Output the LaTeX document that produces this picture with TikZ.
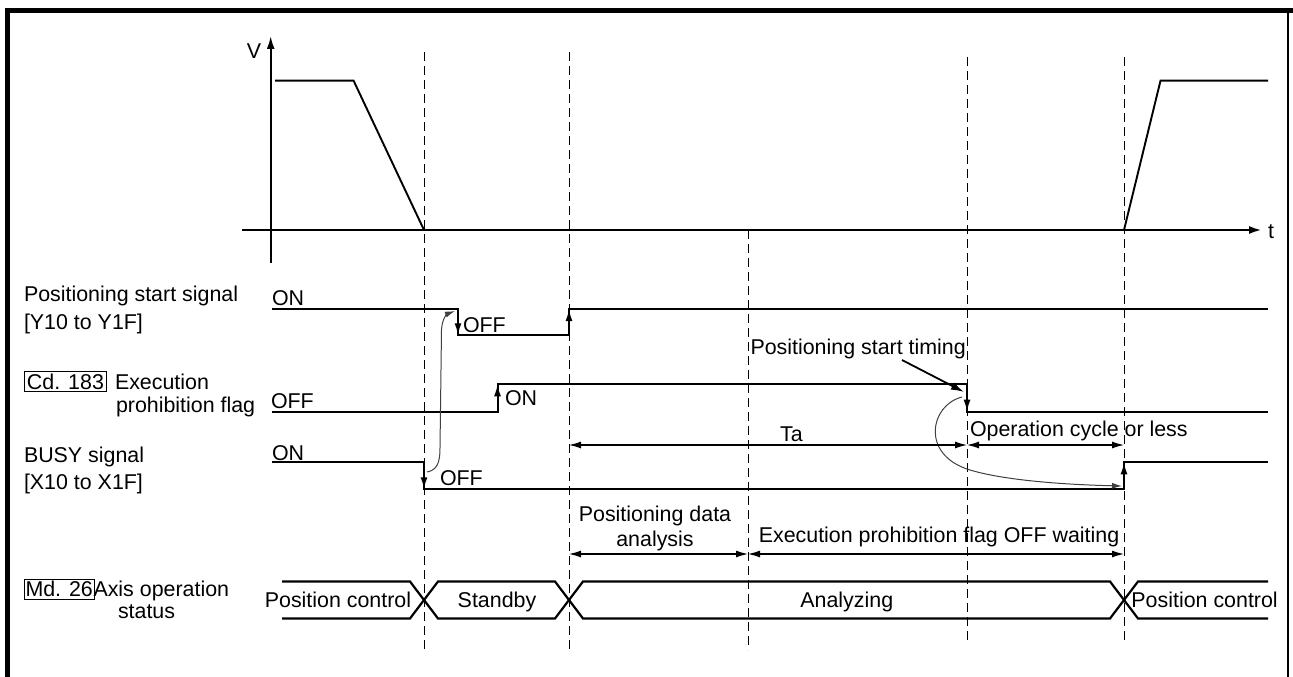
\documentclass[tikz,border=0pt]{standalone}
\usepackage{fontspec}
\setmainfont{Liberation Sans}
\usetikzlibrary{arrows.meta}
\begin{document}
\begin{tikzpicture}[x=1pt,y=-1pt,
  every node/.style={inner sep=0pt, outer sep=0pt},
  txt/.style={font=\fontsize{21.4}{25}\selectfont},
  frameline/.style={line width=5pt, line join=miter},
  axisline/.style={line width=2.4pt},
  vel/.style={line width=1.9pt, line join=miter},
  sig/.style={line width=2pt},
  guide/.style={line width=1pt, dash pattern=on 9pt off 5pt},
  edgetip/.style={line width=2pt, -{Latex[length=12pt,width=7pt]}},
  dimline/.style={line width=1.2pt, {Latex[length=12pt,width=7pt]}-{Latex[length=12pt,width=7pt]}},
  curvearrow/.style={line width=1pt, draw=black!75, -{Latex[length=10pt,width=6pt]}},
  tagbox/.style={draw, line width=1pt, inner xsep=3pt, inner ysep=2pt, text height=15.5pt, text depth=0.5pt},
  statusline/.style={line width=2.2pt}
]
\useasboundingbox (0,0) rectangle (1293,677);

% frame
\draw[frameline] (7,677) -- (7,10.8) -- (1293,10.8);
\draw[line width=1.5pt] (1288,10.8) -- (1288,677);

% axes
\coordinate (vbot) at (270.7,263);
\coordinate (vtop) at (270.7,36);
\draw[line width=2pt, -{Latex[length=13pt,width=8pt]}] (vbot) -- (vtop);
\node[txt, anchor=base] (vlab) at (254,58.5) {V};
\coordinate (tstart) at (241.7,230);
\coordinate (tend) at (1262,230);
\draw[axisline, -{Latex[length=13pt,width=8pt]}] (tstart) -- (tend);
\node[txt, anchor=base] (tlab) at (1271,238.5) {t};

% velocity
\draw[vel] (275,80.7) -- (353.6,80.7) -- (424,230);
\draw[vel] (1124,230) -- (1160.5,80.7) -- (1268,80.7);

% guide lines
\draw[guide] (424,52) -- (424,651);
\draw[guide] (569,52) -- (569,651);
\draw[guide] (748,230) -- (748,650);
\draw[guide] (967,57) -- (967,643);
\draw[guide] (1124,57) -- (1124,643);

% left labels
\node[txt, anchor=base west] (pslab1) at (24,301) {Positioning start signal};
\node[txt, anchor=base west] (pslab2) at (24,329) {[Y10 to Y1F]};
\node[txt, tagbox, anchor=base west] (cdbox) at (24,389) {Cd. 183};
\node[txt, anchor=base west] (cdlab1) at (115,389) {Execution};
\node[txt, anchor=base west] (cdlab2) at (116,412.5) {prohibition flag};
\node[txt, anchor=base west] (bslab1) at (24,462.6) {BUSY signal};
\node[txt, anchor=base west] (bslab2) at (24,489.3) {[X10 to X1F]};
\node[txt, tagbox, inner xsep=1.5pt, anchor=base west] (mdbox) at (24,596.6) {Md. 26};
\node[txt, anchor=base west] (mdlab1) at (93.5,596.6) {Axis operation};
\node[txt, anchor=base west] (mdlab2) at (118,618) {status};

% positioning start signal
\draw[sig] (272,309) -- (458,309) -- (458,335.3) -- (569,335.3) -- (569,309) -- (1268,309);
\draw[edgetip] (458,318) -- (458,335.3);
\draw[edgetip] (569,326) -- (569,309);
\node[txt, anchor=base west] (pson) at (272,305) {ON};
\node[txt, anchor=base west] (psoff) at (463,332) {OFF};

% execution prohibition flag
\draw[sig] (272,411.7) -- (497.5,411.7) -- (497.5,384.3) -- (967,384.3) -- (967,411.7) -- (1268,411.7);
\draw[edgetip] (497.5,402) -- (497.5,384.3);
\draw[edgetip] (967,394) -- (967,411.7);
\node[txt, anchor=base west] (cdoff) at (271,408.3) {OFF};
\node[txt, anchor=base west] (cdon) at (505,405) {ON};

% BUSY signal
\draw[sig] (272,462.3) -- (424,462.3) -- (424,489.3) -- (1124,489.3) -- (1124,462.3) -- (1268,462.3);
\draw[edgetip] (424,472) -- (424,489.3);
\draw[edgetip] (1124,480) -- (1124,462.3);
\node[txt, anchor=base west] (bson) at (272,460) {ON};
\node[txt, anchor=base west] (bsoff) at (440,485) {OFF};

% curved cause arrows
\coordinate (c1s) at (427,472);
\coordinate (c1e) at (455,311);
\draw[curvearrow] (c1s) .. controls (437,470) and (440,463) .. (440,448) -- (441.5,330) .. controls (442,319) and (447,314) .. (c1e);
\coordinate (c2s) at (962,397);
\coordinate (c2m) at (970,470);
\coordinate (c2e) at (1122,486);
\draw[curvearrow] (c2s) .. controls (930,405) and (920,455) .. (c2m) .. controls (1010,482) and (1080,485) .. (c2e);

% positioning start timing
\node[txt, anchor=base west] (pstlab) at (750.5,354) {Positioning start timing};
\coordinate (pstfrom) at (902,360);
\coordinate (pstto) at (964,392);
\draw[line width=1.8pt, -{Latex[length=13pt,width=8pt]}] (pstfrom) -- (pstto);

% Ta and operation cycle
\coordinate (ta1) at (569,445);
\coordinate (ta2) at (967,445);
\coordinate (ta3) at (1124,445);
\draw[dimline] (ta1) -- (ta2);
\draw[dimline] (ta2) -- (ta3);
\node[txt, anchor=base] (talab) at (791.5,441) {Ta};
\node[txt, anchor=base west] (oclab) at (970,436) {Operation cycle or less};

% analysis / waiting
\coordinate (an1) at (569,554);
\coordinate (an2) at (748,554);
\coordinate (an3) at (1124,554);
\draw[dimline] (an1) -- (an2);
\draw[dimline] (an2) -- (an3);
\node[txt, anchor=base] (anlab1) at (655,521.7) {Positioning data};
\node[txt, anchor=base] (anlab2) at (655,546.7) {analysis};
\node[txt, anchor=base] (wtlab) at (939,542.6) {Execution prohibition flag OFF waiting};

% axis operation status
\draw[statusline] (282,581.5) -- (410,581.5) -- (438,618.5) -- (555,618.5) -- (583,581.5) -- (1110,581.5) -- (1138,618.5) -- (1268,618.5);
\draw[statusline] (282,618.5) -- (410,618.5) -- (438,581.5) -- (555,581.5) -- (583,618.5) -- (1110,618.5) -- (1138,581.5) -- (1268,581.5);
\node[txt, anchor=base] (st1) at (338,607.6) {Position control};
\node[txt, anchor=base] (st2) at (497,607.6) {Standby};
\node[txt, anchor=base] (st3) at (846.8,607.6) {Analyzing};
\node[txt, anchor=base] (st4) at (1204.6,607.6) {Position control};
\end{tikzpicture}
\end{document}
